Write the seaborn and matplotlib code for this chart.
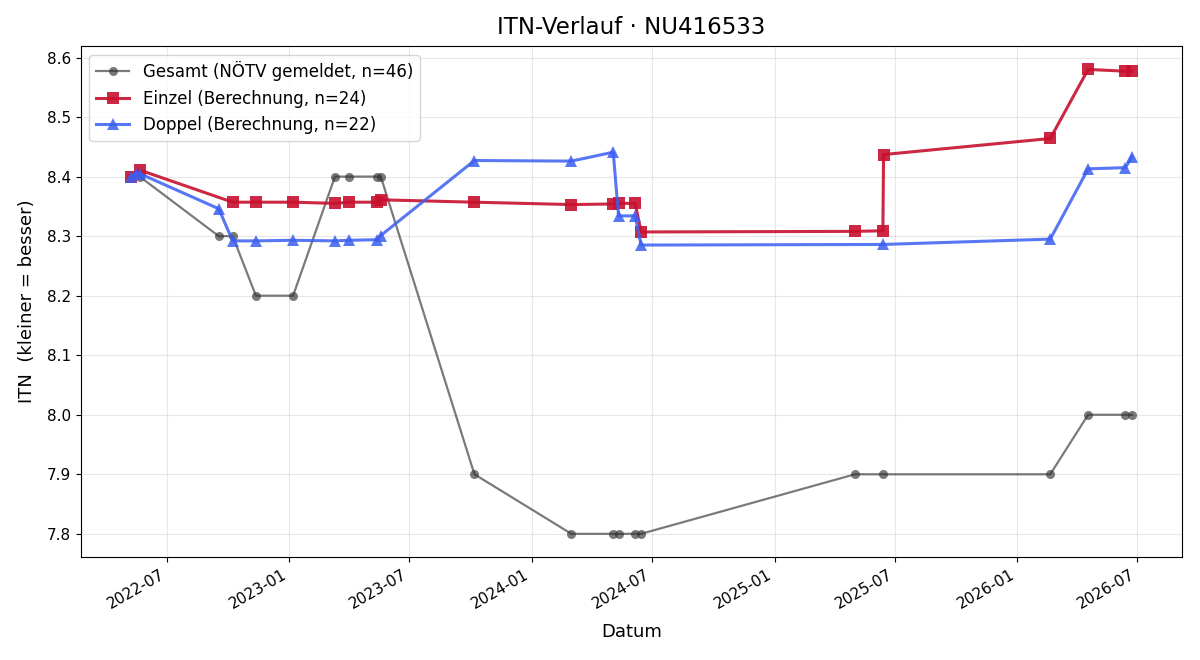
import pandas as pd
import matplotlib.pyplot as plt
import seaborn as sns

# Gesamt (NÖTV gemeldet)
gesamt_dates = ['2022-05-08', '2022-05-21', '2022-09-17', '2022-10-08', '2022-11-12',
                '2023-01-07', '2023-03-11', '2023-04-01', '2023-05-13', '2023-05-19',
                '2023-10-07', '2024-03-01', '2024-05-03', '2024-05-11', '2024-06-05',
                '2024-06-14', '2025-05-02', '2025-06-13', '2026-02-20', '2026-04-18',
                '2026-06-13', '2026-06-23']
gesamt_itn = [8.4, 8.4, 8.3, 8.3, 8.2,
              8.2, 8.4, 8.4, 8.4, 8.4,
              7.9, 7.8, 7.8, 7.8, 7.8,
              7.8, 7.9, 7.9, 7.9, 8.0,
              8.0, 8.0]

# Einzel (Berechnung)
einzel_dates = ['2022-05-08', '2022-05-21', '2022-10-08', '2022-11-12', '2023-01-07',
                '2023-03-11', '2023-04-01', '2023-05-13', '2023-05-19', '2023-10-07',
                '2024-03-01', '2024-05-03', '2024-05-11', '2024-06-05', '2024-06-14',
                '2025-05-02', '2025-06-13', '2025-06-14', '2026-02-20', '2026-04-18',
                '2026-06-13', '2026-06-23']
einzel_itn = [8.400, 8.411, 8.357, 8.357, 8.357,
              8.355, 8.357, 8.357, 8.361, 8.357,
              8.353, 8.354, 8.355, 8.355, 8.307,
              8.308, 8.309, 8.437, 8.464, 8.580,
              8.577, 8.577]

# Doppel (Berechnung)
doppel_dates = ['2022-05-08', '2022-05-15', '2022-05-21', '2022-09-17', '2022-10-08',
                '2022-11-12', '2023-01-07', '2023-03-11', '2023-04-01', '2023-05-13',
                '2023-05-19', '2023-10-07', '2024-03-01', '2024-05-03', '2024-05-11',
                '2024-06-05', '2024-06-14', '2025-06-13', '2026-02-20', '2026-04-18',
                '2026-06-13', '2026-06-23']
doppel_itn = [8.400, 8.405, 8.405, 8.346, 8.292,
              8.292, 8.293, 8.292, 8.293, 8.294,
              8.301, 8.427, 8.426, 8.441, 8.334,
              8.334, 8.285, 8.286, 8.295, 8.413,
              8.415, 8.433]

df_g = pd.DataFrame({'Datum': pd.to_datetime(gesamt_dates), 'ITN': gesamt_itn})
df_e = pd.DataFrame({'Datum': pd.to_datetime(einzel_dates), 'ITN': einzel_itn})
df_d = pd.DataFrame({'Datum': pd.to_datetime(doppel_dates), 'ITN': doppel_itn})

fig, ax = plt.subplots(figsize=(12, 6.6), dpi=100)

sns.lineplot(data=df_g, x='Datum', y='ITN', ax=ax, estimator=None, sort=False,
             color='#333333', alpha=0.65, linewidth=1.6, marker='o', markersize=6.5,
             markeredgewidth=0, label='Gesamt (NÖTV gemeldet, n=46)')
sns.lineplot(data=df_e, x='Datum', y='ITN', ax=ax, estimator=None, sort=False,
             color='#c8102e', alpha=0.9, linewidth=2.2, marker='s', markersize=8,
             markeredgewidth=0, label='Einzel (Berechnung, n=24)')
sns.lineplot(data=df_d, x='Datum', y='ITN', ax=ax, estimator=None, sort=False,
             color='#3b5ff0', alpha=0.85, linewidth=2.2, marker='^', markersize=8,
             markeredgewidth=0, label='Doppel (Berechnung, n=22)')

ax.set_title('ITN-Verlauf · NU416533', fontsize=16.5, pad=9)
ax.set_xlabel('Datum', fontsize=13, labelpad=8)
ax.set_ylabel('ITN  (kleiner = besser)', fontsize=13, labelpad=8)
ax.tick_params(labelsize=11)
ax.grid(True, alpha=0.3)
ax.legend(loc='upper left', fontsize=12)
fig.autofmt_xdate()

fig.subplots_adjust(left=0.0675, right=0.985, top=0.93, bottom=0.156)
plt.savefig('out.png', dpi=100)
